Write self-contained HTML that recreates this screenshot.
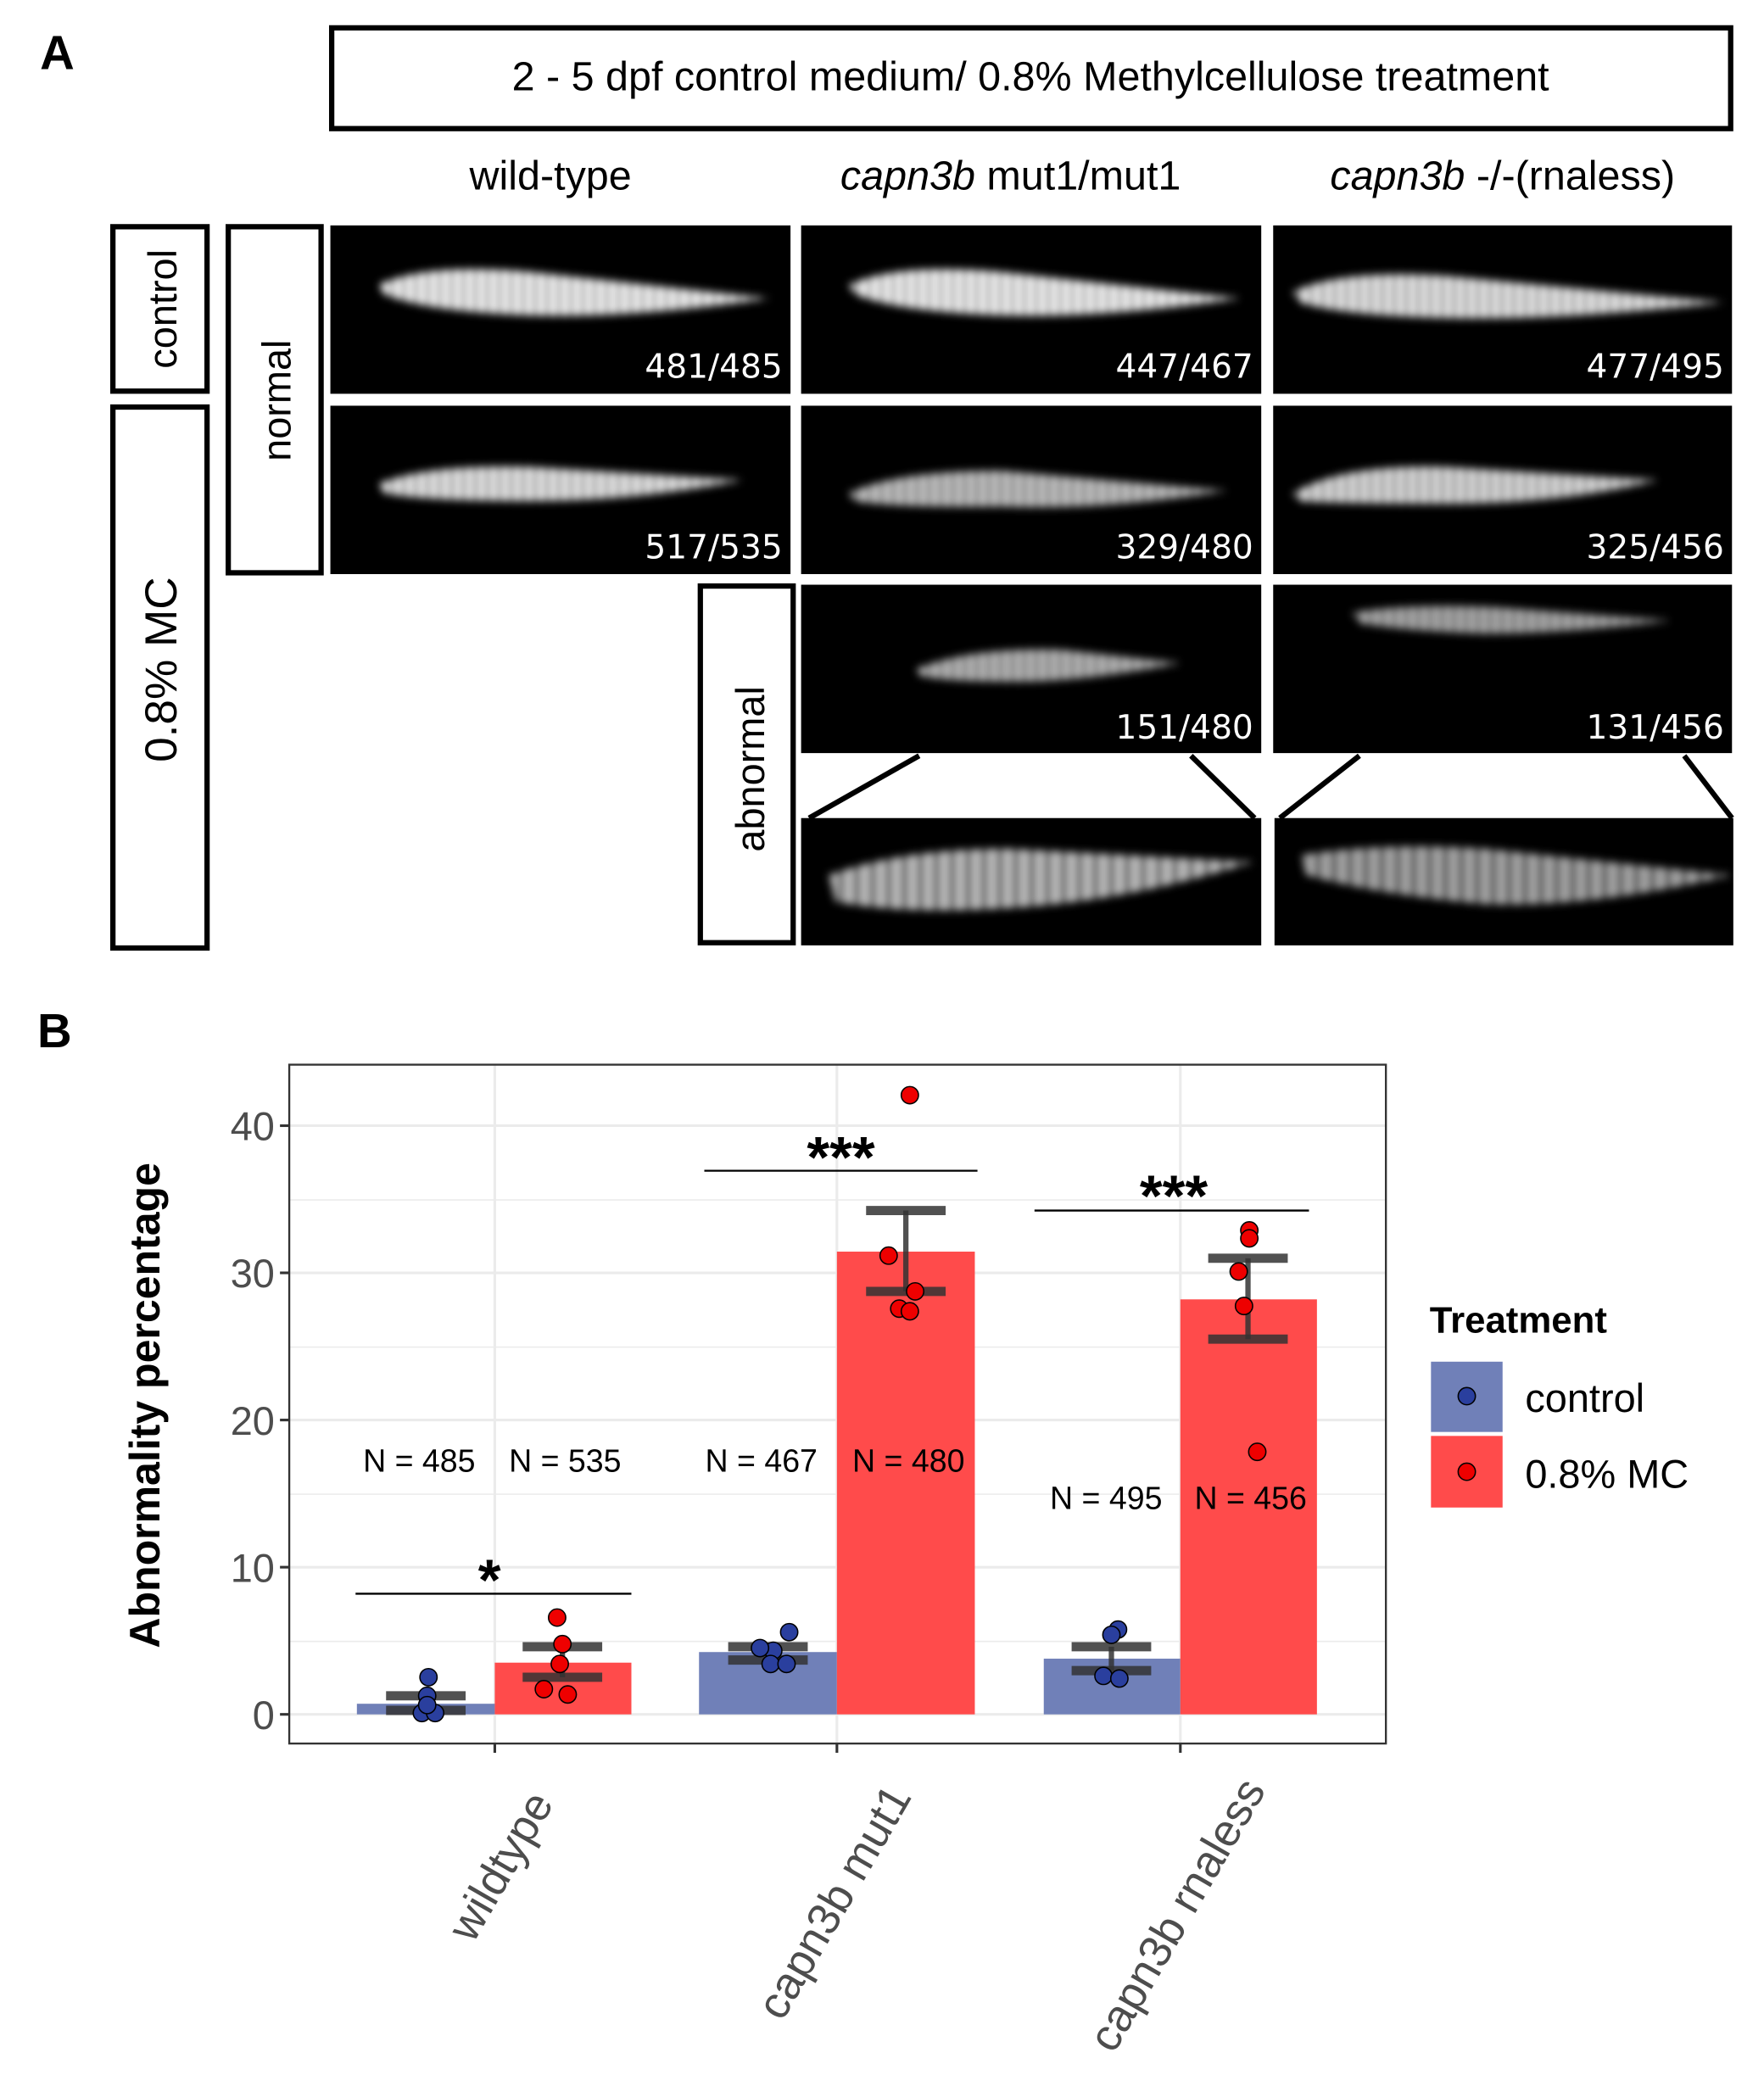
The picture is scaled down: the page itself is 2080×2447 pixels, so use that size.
<!DOCTYPE html>
<html><head><meta charset="utf-8"><style>html,body{margin:0;padding:0;background:#fff}svg{display:block}</style></head>
<body>
<svg width="2080" height="2447" viewBox="0 0 1330 1565" xmlns="http://www.w3.org/2000/svg" font-family="Liberation Sans, sans-serif">
<defs>
<filter id="bl" x="-20%" y="-50%" width="140%" height="200%"><feGaussianBlur stdDeviation="3"/></filter>
<pattern id="stripe" width="9" height="40" patternUnits="userSpaceOnUse"><rect width="9" height="40" fill="#fff"/><rect x="6" width="3" height="40" fill="#555"/></pattern>
<linearGradient id="st2" x1="0" x2="1"><stop offset="0" stop-color="#fff"/><stop offset="1" stop-color="#fff"/></linearGradient>
<pattern id="str" width="12" height="40" patternUnits="userSpaceOnUse"><rect width="12" height="40" fill="#ddd"/><rect x="8" width="4" height="40" fill="#444"/></pattern>
</defs>
<rect width="1330" height="1565" fill="#fff"/>
<text x="30" y="52" font-size="36" font-weight="bold">A</text>
<rect x="250" y="21" width="1055" height="76" fill="none" stroke="#000" stroke-width="4"/>
<text x="777" y="68" font-size="31" text-anchor="middle">2 - 5 dpf  control medium/ 0.8% Methylcellulose treatment</text>
<text x="415" y="143" font-size="31" text-anchor="middle">wild-type</text>
<text x="762" y="143" font-size="31" text-anchor="middle"><tspan font-style="italic">capn3b</tspan> mut1/mut1</text>
<text x="1133" y="143" font-size="31" text-anchor="middle"><tspan font-style="italic">capn3b</tspan> -/-(rnaless)</text>
<g fill="none" stroke="#000" stroke-width="4">
<rect x="85" y="171" width="71" height="124"/>
<rect x="85" y="307" width="71" height="408"/>
<rect x="172" y="171" width="70" height="261"/>
<rect x="528" y="442" width="70" height="269"/>
</g>
<text transform="translate(133,233) rotate(-90)" font-size="30" text-anchor="middle">control</text>
<text transform="translate(133,505) rotate(-90)" font-size="34" text-anchor="middle">0.8% MC</text>
<text transform="translate(219,302) rotate(-90)" font-size="30" text-anchor="middle">normal</text>
<text transform="translate(576,580) rotate(-90)" font-size="30" text-anchor="middle">abnormal</text>
<g fill="#000">
<rect x="249" y="170" width="347" height="127"/><rect x="604" y="170" width="347" height="127"/><rect x="960" y="170" width="346" height="127"/>
<rect x="249" y="306" width="347" height="127"/><rect x="604" y="306" width="347" height="127"/><rect x="960" y="306" width="346" height="127"/>
<rect x="604" y="441" width="347" height="127"/><rect x="960" y="441" width="346" height="127"/>
<rect x="604" y="617" width="347" height="96"/><rect x="961" y="617" width="346" height="96"/>
</g>
<g filter="url(#bl)" fill="url(#stripe)">
<path d="M285,215 Q320,198 400,205 L580,225 Q480,240 400,238 Q320,235 290,222Z"/>
<path d="M640,215 Q675,198 755,205 L935,225 Q835,240 755,238 Q675,235 645,222Z"/>
<path d="M975,220 Q1010,203 1090,208 L1300,228 Q1180,242 1090,240 Q1010,238 980,228Z" opacity="0.95"/>
<path d="M285,365 Q320,350 400,352 L560,362 Q480,378 400,378 Q320,378 290,372Z" opacity="0.95"/>
<path d="M640,372 Q675,355 755,355 L925,370 Q835,385 755,382 Q675,383 645,378Z" opacity="0.8"/>
<path d="M975,372 Q1010,350 1090,352 L1250,362 Q1180,380 1090,380 Q1010,380 980,378Z" opacity="0.9"/>
<path d="M690,505 Q730,488 800,490 L890,500 Q830,512 780,514 Q720,515 695,510Z" opacity="0.75"/>
<path d="M1020,462 Q1060,455 1130,458 L1260,468 Q1180,478 1120,478 Q1060,476 1025,470Z" opacity="0.7"/>
</g>
<g filter="url(#bl)" fill="url(#str)">
<path d="M625,660 Q680,640 760,640 L945,650 Q850,680 760,685 Q680,690 630,680Z" opacity="0.85"/>
<path d="M980,645 Q1040,635 1120,640 L1306,660 Q1200,685 1120,682 Q1040,675 985,660Z" opacity="0.75"/>
</g>
<g fill="#fff" font-family="DejaVu Sans, sans-serif" font-size="25" text-anchor="end">
<text x="590" y="285">481/485</text><text x="945" y="285">447/467</text><text x="1300" y="285">477/495</text>
<text x="590" y="421">517/535</text><text x="945" y="421">329/480</text><text x="1300" y="421">325/456</text>
<text x="945" y="557">151/480</text><text x="1300" y="557">131/456</text>
</g>
<g stroke="#000" stroke-width="4">
<line x1="693" y1="570" x2="610" y2="617"/><line x1="898" y1="570" x2="946" y2="617"/>
<line x1="1025" y1="570" x2="965" y2="617"/><line x1="1270" y1="570" x2="1306" y2="617"/>
</g>
<text x="28" y="790" font-size="36" font-weight="bold">B</text>
<rect x="218" y="803" width="827" height="512" fill="#fff"/>
<g stroke="#ebebeb" stroke-width="1">
<line x1="218" x2="1045" y1="1238" y2="1238"/><line x1="218" x2="1045" y1="1127" y2="1127"/><line x1="218" x2="1045" y1="1016" y2="1016"/><line x1="218" x2="1045" y1="905" y2="905"/>
</g>
<g stroke="#ebebeb" stroke-width="2">
<line x1="218" x2="1045" y1="1293" y2="1293"/><line x1="218" x2="1045" y1="1182" y2="1182"/><line x1="218" x2="1045" y1="1071" y2="1071"/><line x1="218" x2="1045" y1="960" y2="960"/><line x1="218" x2="1045" y1="849" y2="849"/>
<line x1="373" x2="373" y1="803" y2="1315"/><line x1="631" x2="631" y1="803" y2="1315"/><line x1="890" x2="890" y1="803" y2="1315"/>
</g>
<g fill="#7080b8">
<rect x="269" y="1285" width="104" height="8"/><rect x="527" y="1246" width="104" height="47"/><rect x="787" y="1251" width="103" height="42"/>
</g>
<g fill="#ff4b4b">
<rect x="373" y="1254" width="103" height="39"/><rect x="631" y="944" width="104" height="349"/><rect x="890" y="980" width="103" height="313"/>
</g>
<rect x="218" y="803" width="827" height="512" fill="none" stroke="#333" stroke-width="1.5"/>
<g stroke="#333" stroke-opacity="0.85">
<g stroke-width="7">
<line x1="291" x2="351" y1="1290" y2="1290"/><line x1="291" x2="351" y1="1279" y2="1279"/>
<line x1="394" x2="454" y1="1265" y2="1265"/><line x1="394" x2="454" y1="1242" y2="1242"/>
<line x1="549" x2="609" y1="1252" y2="1252"/><line x1="549" x2="609" y1="1242" y2="1242"/>
<line x1="653" x2="713" y1="974" y2="974"/><line x1="653" x2="713" y1="913" y2="913"/>
<line x1="808" x2="868" y1="1260" y2="1260"/><line x1="808" x2="868" y1="1242" y2="1242"/>
<line x1="911" x2="971" y1="1010" y2="1010"/><line x1="911" x2="971" y1="949" y2="949"/>
</g>
<g stroke-width="4">
<line x1="321" x2="321" y1="1290" y2="1279"/><line x1="424" x2="424" y1="1265" y2="1242"/><line x1="579" x2="579" y1="1252" y2="1242"/>
<line x1="683" x2="683" y1="974" y2="913"/><line x1="838" x2="838" y1="1260" y2="1242"/><line x1="941" x2="941" y1="1010" y2="949"/>
</g>
</g>
<g fill="#2a3f9e" stroke="#000" stroke-width="1">
<circle cx="323" cy="1265" r="6.5"/><circle cx="322" cy="1279" r="6.5"/><circle cx="318" cy="1292" r="6.5"/><circle cx="328" cy="1292" r="6.5"/><circle cx="322" cy="1286" r="6.5"/>
<circle cx="595" cy="1231" r="6.5"/><circle cx="583" cy="1245" r="6.5"/><circle cx="573" cy="1243" r="6.5"/><circle cx="581" cy="1255" r="6.5"/><circle cx="593" cy="1255" r="6.5"/>
<circle cx="843" cy="1229" r="6.5"/><circle cx="838" cy="1233" r="6.5"/><circle cx="832" cy="1264" r="6.5"/><circle cx="844" cy="1266" r="6.5"/>
</g>
<g fill="#ee0000" stroke="#000" stroke-width="1">
<circle cx="420" cy="1220" r="6.5"/><circle cx="424" cy="1240" r="6.5"/><circle cx="422" cy="1255" r="6.5"/><circle cx="410" cy="1274" r="6.5"/><circle cx="428" cy="1278" r="6.5"/>
<circle cx="686" cy="826" r="6.5"/><circle cx="670" cy="947" r="6.5"/><circle cx="690" cy="974" r="6.5"/><circle cx="678" cy="987" r="6.5"/><circle cx="686" cy="989" r="6.5"/>
<circle cx="942" cy="928" r="6.5"/><circle cx="942" cy="934" r="6.5"/><circle cx="934" cy="959" r="6.5"/><circle cx="938" cy="985" r="6.5"/><circle cx="948" cy="1095" r="6.5"/>
</g>
<g stroke="#000" stroke-width="1.5">
<line x1="268" x2="476" y1="1202" y2="1202"/><line x1="531" x2="737" y1="883" y2="883"/><line x1="780" x2="987" y1="913" y2="913"/>
</g>
<g font-size="44" font-weight="bold" text-anchor="middle">
<text x="369" y="1207">*</text><text x="634" y="888">***</text><text x="885" y="917">***</text>
</g>
<g font-size="24" text-anchor="middle">
<text x="316" y="1110">N = 485</text><text x="426" y="1110">N = 535</text><text x="574" y="1110">N = 467</text><text x="685" y="1110">N = 480</text>
<text x="834" y="1138">N = 495</text><text x="943" y="1138">N = 456</text>
</g>
<g fill="#4d4d4d" font-size="30" text-anchor="end">
<text x="207" y="1304">0</text><text x="207" y="1193">10</text><text x="207" y="1082">20</text><text x="207" y="971">30</text><text x="207" y="860">40</text>
</g>
<g stroke="#333" stroke-width="2">
<line x1="211" x2="218" y1="1293" y2="1293"/><line x1="211" x2="218" y1="1182" y2="1182"/><line x1="211" x2="218" y1="1071" y2="1071"/><line x1="211" x2="218" y1="960" y2="960"/><line x1="211" x2="218" y1="849" y2="849"/>
<line x1="373" x2="373" y1="1315" y2="1322"/><line x1="631" x2="631" y1="1315" y2="1322"/><line x1="890" x2="890" y1="1315" y2="1322"/>
</g>
<text transform="translate(120,1060) rotate(-90)" font-size="32" font-weight="bold" text-anchor="middle">Abnormality percentage</text>
<g fill="#4d4d4d" font-size="34" text-anchor="end">
<text transform="translate(418,1360) rotate(-60)">wildtype</text>
<text transform="translate(688,1355) rotate(-60)">capn3b mut1</text>
<text transform="translate(955,1350) rotate(-60)">capn3b rnaless</text>
</g>
<text x="1078" y="1005" font-size="28" font-weight="bold">Treatment</text>
<rect x="1079" y="1027" width="54" height="53" fill="#7080b8"/>
<rect x="1079" y="1083" width="54" height="54" fill="#ff4b4b"/>
<circle cx="1106" cy="1053" r="6.5" fill="#2a3f9e" stroke="#000"/>
<circle cx="1106" cy="1110" r="6.5" fill="#ee0000" stroke="#000"/>
<text x="1150" y="1065" font-size="30">control</text>
<text x="1150" y="1122" font-size="30">0.8% MC</text>
</svg>
</body></html>
